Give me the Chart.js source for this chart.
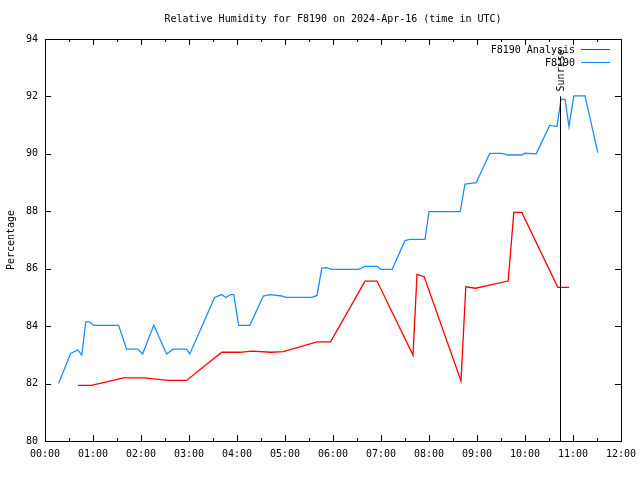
<!DOCTYPE html>
<html>
<head>
<meta charset="utf-8">
<script src="https://cdn.jsdelivr.net/npm/chart.js@4/dist/chart.umd.min.js"></script>
<style>
html,body{margin:0;padding:0;background:#fff;}
#wrap{width:640px;height:480px;}
</style>
</head>
<body>
<div id="wrap"><canvas id="c" width="640" height="480"></canvas></div>
<script>
const titleText = "Relative Humidity for F8190 on 2024-Apr-16 (time in UTC)";
const yAxisLabel = "Percentage";
const seriesNames = ["F8190 Analysis", "F8190"];
const sunriseTime = "10:44";
const sunriseLabel = "Sunrise";
const sunriseTop = 92;

const analysisTimes = ["00:41","00:58","01:38","02:04","02:16","02:34","02:57","03:41","04:03","04:19","04:43","04:58","05:40","05:57","06:40","06:55","07:40","07:45","07:54","08:40","08:46","08:58","09:39","09:46","09:56","10:41","10:55"];
const analysisValues = [81.94,81.94,82.2,82.2,82.16,82.11,82.11,83.09,83.09,83.13,83.09,83.11,83.45,83.45,85.57,85.57,82.99,85.8,85.72,82.09,85.37,85.32,85.57,87.96,87.96,85.35,85.35];

const obsTimes = ["00:17","00:32","00:41","00:46","00:51","00:55","01:01","01:32","01:42","01:56","02:02","02:16","02:32","02:40","02:57","03:01","03:32","03:41","03:46","03:52","03:56","04:02","04:16","04:33","04:41","04:56","05:01","05:34","05:40","05:46","05:52","05:58","06:32","06:40","06:55","07:00","07:14","07:30","07:36","07:55","08:00","08:39","08:45","08:59","09:16","09:31","09:39","09:56","10:00","10:14","10:31","10:40","10:45","10:50","10:55","11:01","11:15","11:31"];
const obsValues = [82.0,83.05,83.17,83.0,84.15,84.15,84.03,84.03,83.2,83.2,83.03,84.03,83.03,83.2,83.2,83.03,85.0,85.1,85.0,85.1,85.1,84.03,84.03,85.05,85.1,85.05,85.0,85.0,85.07,86.02,86.04,85.98,85.98,86.08,86.08,85.98,85.98,86.98,87.02,87.02,87.99,87.99,88.95,89.0,90.02,90.02,89.96,89.96,90.02,90.0,91.0,90.95,91.9,91.9,90.95,92.02,92.02,90.04];

const xTickHours = [0,1,2,3,4,5,6,7,8,9,10,11,12];
const yTicks = [80,82,84,86,88,90,92,94];
const seriesColors = ["#ff0000", "#1e8cff"];

function toHours(t){ const p = t.split(":"); return (+p[0]) + (+p[1])/60; }
function pts(times, vals){ return times.map((t,i)=>({x:toHours(t), y:vals[i]})); }
function pad2(n){ return (n<10?"0":"")+n; }

const FONT = "'DejaVu Sans Mono', 'Liberation Mono', monospace";

const gnuPlugin = {
  id: 'gnu',
  afterDraw(chart){
    const ctx = chart.ctx;
    const a = chart.chartArea;
    const xs = chart.scales.x, ys = chart.scales.y;
    ctx.save();
    ctx.strokeStyle = "#000";
    ctx.lineWidth = 1;
    ctx.beginPath();
    for (let h = 0; h <= 12; h += 0.5) {
      const x = Math.round(xs.getPixelForValue(h)) + 0.5;
      const len = (h % 1 === 0) ? 6 : 3;
      ctx.moveTo(x, a.bottom); ctx.lineTo(x, a.bottom - len);
      ctx.moveTo(x, a.top); ctx.lineTo(x, a.top + len);
    }
    yTicks.forEach(v => {
      const y = Math.round(ys.getPixelForValue(v)) + 0.5;
      ctx.moveTo(a.left, y); ctx.lineTo(a.left + 6, y);
      ctx.moveTo(a.right, y); ctx.lineTo(a.right - 6, y);
    });
    ctx.stroke();
    ctx.strokeRect(Math.round(a.left)+0.5, Math.round(a.top)+0.5, Math.round(a.right-a.left), Math.round(a.bottom-a.top));
    const sx = Math.round(xs.getPixelForValue(toHours(sunriseTime))) + 0.5;
    ctx.beginPath();
    ctx.moveTo(sx, ys.getPixelForValue(80));
    ctx.lineTo(sx, ys.getPixelForValue(sunriseTop));
    ctx.stroke();
    ctx.fillStyle = "#000";
    ctx.font = "10px " + FONT;
    ctx.save();
    ctx.translate(sx + 1, ys.getPixelForValue(sunriseTop) - 5);
    ctx.rotate(-Math.PI/2);
    ctx.textAlign = "left";
    ctx.textBaseline = "middle";
    ctx.fillText(sunriseLabel, 0, 0);
    ctx.restore();
    ctx.textAlign = "right";
    ctx.textBaseline = "middle";
    seriesNames.forEach((n, i) => {
      const y = a.top + 11 + i * 13;
      ctx.fillStyle = "#000";
      ctx.fillText(n, a.right - 46, y);
      ctx.strokeStyle = seriesColors[i];
      ctx.beginPath();
      ctx.moveTo(a.right - 40, Math.round(y) - 0.5);
      ctx.lineTo(a.right - 11, Math.round(y) - 0.5);
      ctx.stroke();
    });
    ctx.restore();
  }
};

new Chart(document.getElementById('c'), {
  type: 'line',
  data: {
    datasets: [
      { label: seriesNames[0], data: pts(analysisTimes, analysisValues), borderColor: seriesColors[0], backgroundColor: seriesColors[0], borderWidth: 1.3, pointRadius: 0, tension: 0, fill: false },
      { label: seriesNames[1], data: pts(obsTimes, obsValues), borderColor: seriesColors[1], backgroundColor: seriesColors[1], borderWidth: 1.3, pointRadius: 0, tension: 0, fill: false }
    ]
  },
  options: {
    responsive: false,
    animation: false,
    devicePixelRatio: 1,
    layout: { padding: { left: 0, right: 19, top: 0, bottom: 0 } },
    plugins: {
      legend: { display: false },
      tooltip: { enabled: false },
      title: {
        display: true,
        fullSize: false,
        text: titleText,
        color: "#000",
        font: { family: FONT, size: 10, weight: 'normal', lineHeight: 1.2 },
        padding: { top: 13, bottom: 14 }
      }
    },
    scales: {
      x: {
        type: 'linear',
        min: 0, max: 12,
        grid: { display: false, drawTicks: false },
        border: { display: false },
        afterBuildTicks: s => { s.ticks = xTickHours.map(v => ({ value: v })); },
        afterFit: s => { s.height = 39; s.paddingLeft = 0; s.paddingRight = 0; },
        ticks: {
          color: "#000",
          padding: 7,
          maxRotation: 0,
          autoSkip: false,
          font: { family: FONT, size: 10 },
          callback: v => pad2(v) + ":00"
        }
      },
      y: {
        min: 80, max: 94,
        grid: { display: false, drawTicks: false },
        border: { display: false },
        afterBuildTicks: s => { s.ticks = yTicks.map(v => ({ value: v })); },
        afterFit: s => { s.width = 45; s.paddingTop = 0; s.paddingBottom = 0; },
        title: {
          display: true,
          text: yAxisLabel,
          color: "#000",
          font: { family: FONT, size: 10 },
          padding: { top: 5, bottom: 0 }
        },
        ticks: {
          color: "#000",
          padding: 7,
          font: { family: FONT, size: 10 }
        }
      }
    }
  },
  plugins: [gnuPlugin]
});
</script>
</body>
</html>
